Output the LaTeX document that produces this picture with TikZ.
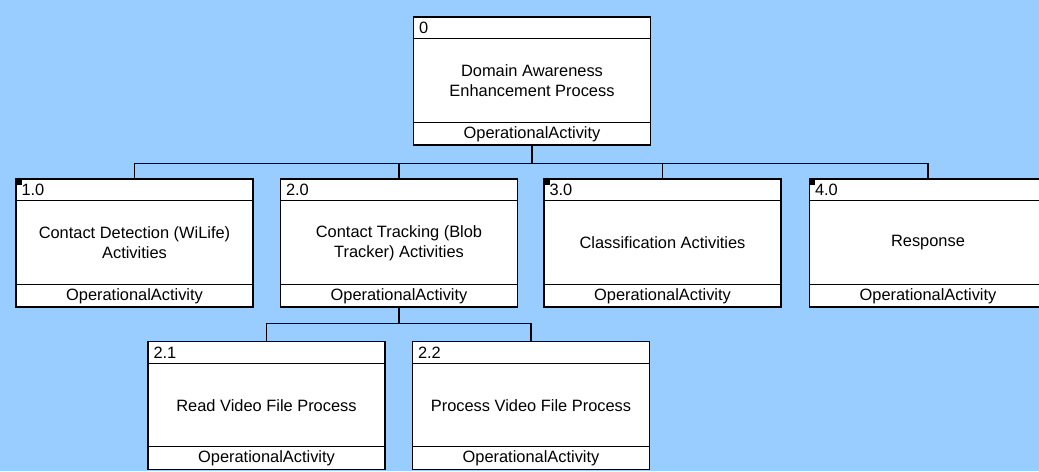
\documentclass[tikz,border=0pt]{standalone}
\usepackage{fontspec}
\setmainfont{Liberation Sans}
\definecolor{skyback}{RGB}{153,204,255}

\begin{document}
\begin{tikzpicture}[x=0.03cm, y=-0.03cm, every node/.style={font=\fontsize{14}{17}\selectfont}]
\tikzstyle{actbox} = [rectangle, draw=black, fill=white, line width=1.2pt, minimum width=7.11cm, minimum height=3.84cm, inner sep=0pt]
\tikzstyle{idtext} = [anchor=west, inner sep=0pt]
\tikzstyle{boxtitle} = [align=center, inner sep=0pt]
\tikzstyle{link} = [line width=1.2pt]

% background
\fill [skyback] (0,0) rectangle (1039,471);
\useasboundingbox (0,0) rectangle (1039,471);

% top level
\node (n0) [actbox] at (532,81) {};

% second level
\node (n1) [actbox] at (134.5,243) {};
\node (n2) [actbox] at (399,243) {};
\node (n3) [actbox] at (662.5,243) {};
\node (n4) [actbox] at (928,243) {};

% third level
\node (n21) [actbox] at (266.5,405.5) {};
\node (n22) [actbox] at (531,405.5) {};

% links from parent to children
\foreach \c in {n1,n2,n3,n4}
  \draw [link] (n0.south) -- ++(0,18) -| (\c.north);
\foreach \c in {n21,n22}
  \draw [link] (n2.south) -- ++(0,16) -| (\c.north);

% compartments and stereotype
\foreach \b in {n0,n1,n2,n3,n4,n21,n22} {
  \draw [line width=1pt] ([shift={(0,22.5)}]\b.north west) -- ([shift={(0,22.5)}]\b.north east);
  \draw [line width=1pt] ([shift={(0,-23.5)}]\b.south west) -- ([shift={(0,-23.5)}]\b.south east);
  \node (\b-foot) [inner sep=0pt] at ([shift={(0,-11.5)}]\b.south) {OperationalActivity};
}

% corner marks
\foreach \b in {n1,n3,n4}
  \fill ([shift={(0.5,0.5)}]\b.north west) rectangle ++(6,6);

% numbers
\node (n0-id) [idtext] at ([shift={(6,11.5)}]n0.north west) {0};
\node (n1-id) [idtext] at ([shift={(6,11.5)}]n1.north west) {1.0};
\node (n2-id) [idtext] at ([shift={(6,11.5)}]n2.north west) {2.0};
\node (n3-id) [idtext] at ([shift={(6,11.5)}]n3.north west) {3.0};
\node (n4-id) [idtext] at ([shift={(6,11.5)}]n4.north west) {4.0};
\node (n21-id) [idtext] at ([shift={(6,11.5)}]n21.north west) {2.1};
\node (n22-id) [idtext] at ([shift={(6,11.5)}]n22.north west) {2.2};

% activity names
\node (n0-name) [boxtitle] at (n0.center) {Domain Awareness\\Enhancement Process};
\node (n1-name) [boxtitle] at (n1.center) {Contact Detection (WiLife)\\Activities};
\node (n2-name) [boxtitle] at (n2.center) {Contact Tracking (Blob\\Tracker) Activities};
\node (n3-name) [boxtitle] at (n3.center) {Classification Activities};
\node (n4-name) [boxtitle] at (n4.center) {Response};
\node (n21-name) [boxtitle] at (n21.center) {Read Video File Process};
\node (n22-name) [boxtitle] at (n22.center) {Process Video File Process};

\end{tikzpicture}
\end{document}
